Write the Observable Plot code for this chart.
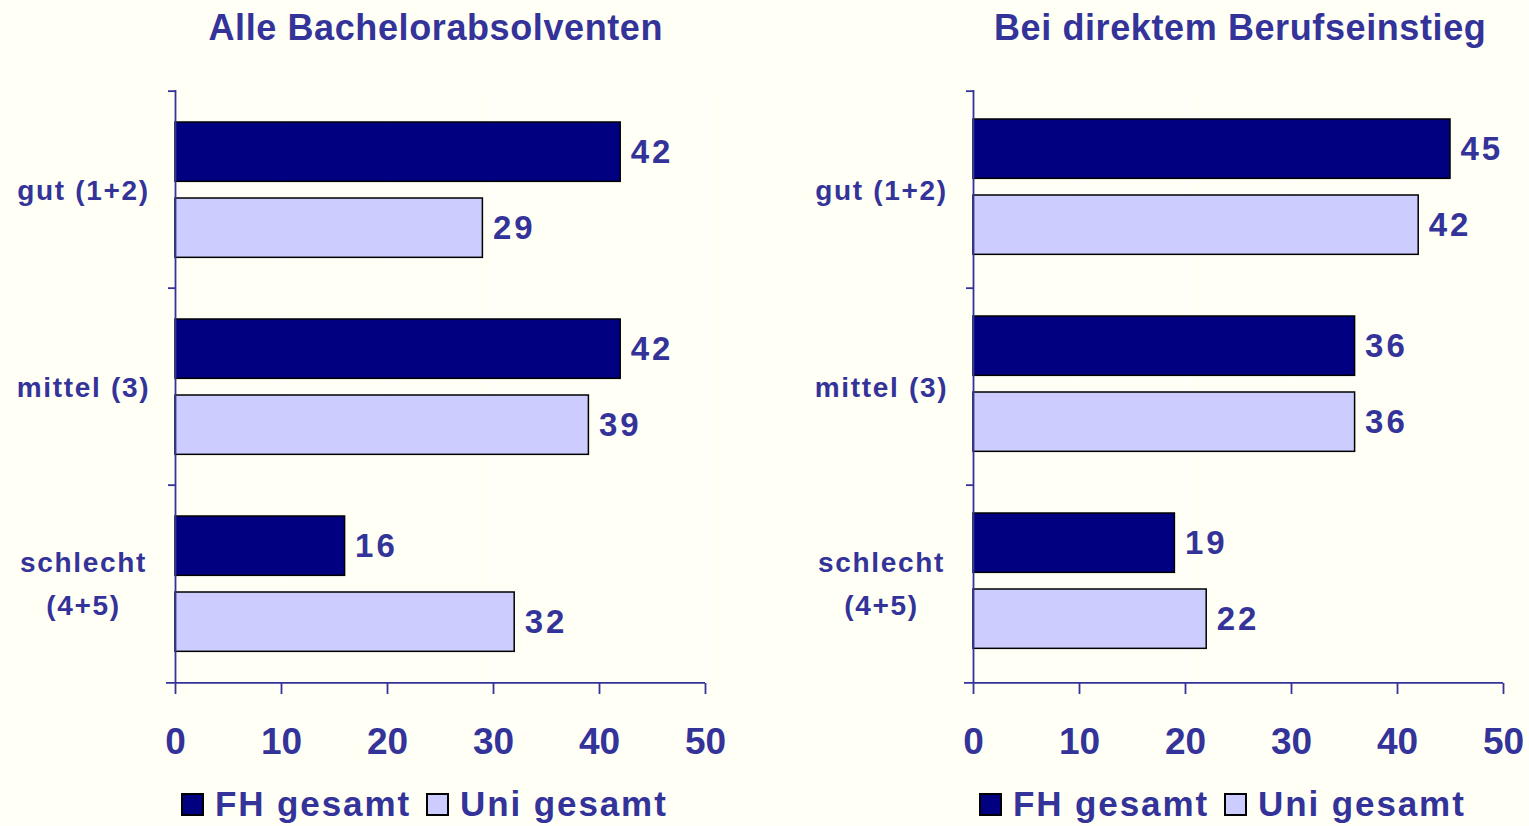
<!DOCTYPE html>
<html>
<head>
<meta charset="utf-8">
<script src="https://cdn.jsdelivr.net/npm/d3@7"></script>
<script src="https://cdn.jsdelivr.net/npm/@observablehq/plot@0.6"></script>
<style>
  html, body { margin: 0; padding: 0; background: #FFFFF5; }
  #wrap { position: relative; width: 1529px; height: 826px; overflow: hidden; background: #FFFFF5;
          font-family: "Liberation Sans", Arial, sans-serif; font-weight: bold; color: #333399; }
  .title { position: absolute; top: 7px; font-size: 36px; letter-spacing: 0.6px; text-align: center; white-space: nowrap; }
  .legend { position: absolute; top: 784px; font-size: 35px; letter-spacing: 1.9px; white-space: nowrap; display: flex; align-items: center; }
  .sw { display: inline-block; width: 19px; height: 19px; border: 2px solid #000; margin-right: 11px; }
  .panel { position: absolute; top: 55px; }
  .panel g[font-size="33"] text { letter-spacing: 3px; }
  .panel g[font-size="28"] text { letter-spacing: 1.7px; }
</style>
</head>
<body>
<div id="wrap"></div>
<script>
// ---- data ----
const categories = ["gut (1+2)", "mittel (3)", "schlecht\n(4+5)"];
const seriesNames = ["FH gesamt", "Uni gesamt"];
const seriesColors = ["#000080", "#CCCCFF"];
const panelTitles = ["Alle Bachelorabsolventen", "Bei direktem Berufseinstieg"];
const alleFH = [42, 42, 16];
const alleUni = [29, 39, 32];
const direktFH = [45, 36, 19];
const direktUni = [42, 36, 22];
const xTicks = [0, 10, 20, 30, 40, 50];

const textColor = "#333399";
const W = [764, 731];
const H = 720, mTop = 35, mBottom = 92, mLeft = 175;
const plotH = H - mTop - mBottom;
const band = plotH / categories.length;
const half = band / 2;

function rows(fh, uni) {
  const out = [];
  categories.forEach((c, i) => {
    out.push({category: c, series: seriesNames[0], value: fh[i]});
    out.push({category: c, series: seriesNames[1], value: uni[i]});
  });
  return out;
}

function panel(fh, uni, width, marginRight, shift) {
  const data = rows(fh, uni);
  const fhRows = data.filter(d => d.series === seriesNames[0]);
  const uniRows = data.filter(d => d.series === seriesNames[1]);
  const lastCat = [categories[categories.length - 1]];
  return Plot.plot({
    width, height: H,
    marginTop: mTop, marginBottom: mBottom, marginLeft: mLeft, marginRight,
    style: {background: "transparent", color: textColor, fontFamily: '"Liberation Sans", Arial, sans-serif', fontWeight: "bold", overflow: "visible"},
    x: {domain: [0, 50]},
    y: {domain: categories, padding: 0, axis: null},
    color: {domain: seriesNames, range: seriesColors},
    marks: [
      Plot.gridX(xTicks, {stroke: "#ffffff", strokeOpacity: 1, strokeWidth: 1.5}),
      Plot.barX(fhRows, {x: "value", y: "category", fill: "series", stroke: "#000", strokeWidth: 1.5,
        insetTop: 31 - shift, insetBottom: band - 91 + shift}),
      Plot.barX(uniRows, {x: "value", y: "category", fill: "series", stroke: "#000", strokeWidth: 1.5,
        insetTop: 107 - shift, insetBottom: band - 167 + shift}),
      Plot.text(fhRows, {x: "value", y: "category", text: d => String(d.value), dx: 10, dy: 61 - half - shift,
        textAnchor: "start", fontSize: 33, fontWeight: "bold", fill: textColor}),
      Plot.text(uniRows, {x: "value", y: "category", text: d => String(d.value), dx: 10, dy: 137 - half - shift,
        textAnchor: "start", fontSize: 33, fontWeight: "bold", fill: textColor}),
      // y axis line and boundary ticks
      Plot.ruleX([0], {stroke: textColor, strokeWidth: 1.8}),
      Plot.ruleY(categories, {y: d => d, x1: 0, x2: 0, insetLeft: -7, dy: -half, stroke: textColor, strokeWidth: 1.8}),
      Plot.ruleY(lastCat, {y: d => d, x1: 0, x2: 50, insetLeft: -9, dy: half, stroke: textColor, strokeWidth: 1.8}),
      // category labels
      Plot.text(categories, {y: d => d, text: d => d, frameAnchor: "left", dx: -92, dy: -4, textAnchor: "middle",
        fontSize: 28, fontWeight: "bold", fill: textColor, lineHeight: 1.52}),
      // x axis
      Plot.axisX({ticks: xTicks, tickSize: 11, tickPadding: 33, fontSize: 37, fontWeight: "bold",
        stroke: textColor, strokeWidth: 1.8, fill: textColor, label: null})
    ]
  });
}

const wrap = document.getElementById("wrap");
const lefts = [0, 798];
const titleCenters = [436, 1240];
const legendLefts = [181, 979];
const shifts = [0, 3];
const datasets = [[alleFH, alleUni], [direktFH, direktUni]];

datasets.forEach(([fh, uni], k) => {
  const svg = panel(fh, uni, W[k], k === 0 ? 59 : 26, shifts[k]);
  const holder = document.createElement("div");
  holder.className = "panel";
  holder.style.left = lefts[k] + "px";
  holder.appendChild(svg);
  wrap.appendChild(holder);

  const t = document.createElement("div");
  t.className = "title";
  t.textContent = panelTitles[k];
  wrap.appendChild(t);
  t.style.left = (titleCenters[k] - t.offsetWidth / 2) + "px";

  const lg = document.createElement("div");
  lg.className = "legend";
  lg.style.left = legendLefts[k] + "px";
  seriesNames.forEach((s, j) => {
    const sw = document.createElement("span");
    sw.className = "sw";
    sw.style.background = seriesColors[j];
    const tx = document.createElement("span");
    tx.textContent = s;
    tx.style.marginRight = j === 0 ? "15px" : "0";
    lg.appendChild(sw);
    lg.appendChild(tx);
  });
  wrap.appendChild(lg);
});
</script>
</body>
</html>
